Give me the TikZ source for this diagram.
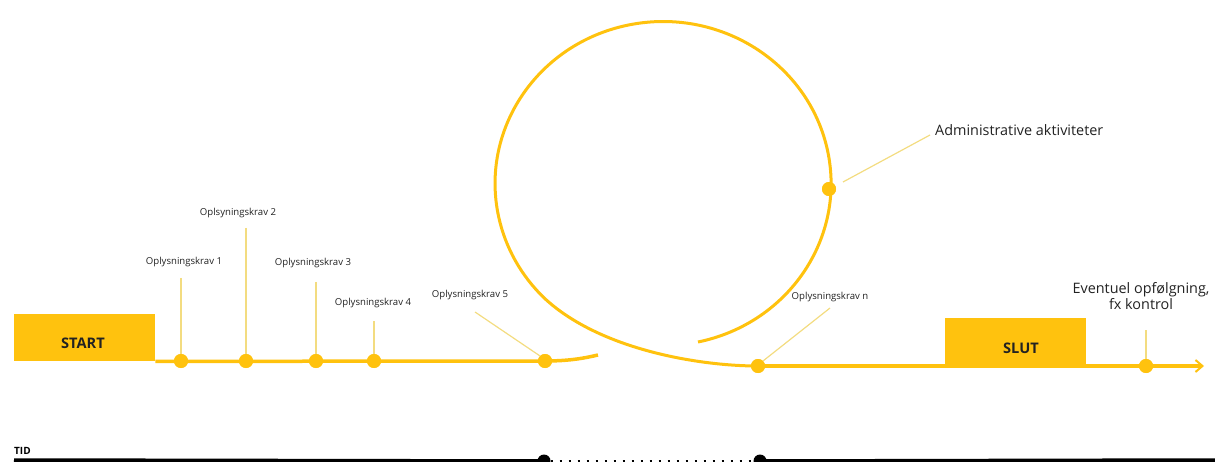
\documentclass[tikz,border=0pt]{standalone}
\usepackage{fontspec}
\setmainfont{Open Sans}
\usetikzlibrary{arrows.meta}
\definecolor{gold}{HTML}{FFC20E}
\definecolor{lead}{HTML}{F3DC80}
\definecolor{ink}{HTML}{222222}
\tikzset{
  main/.style={draw=gold, line width=3.5pt},
  dot/.style={circle, fill=gold, inner sep=0pt, minimum size=14pt},
  bdot/.style={circle, fill=black, inner sep=0pt, minimum size=13pt},
  leader/.style={draw=lead, line width=1.2pt},
  lbl/.style={font=\fontsize{9.6}{11}\selectfont, text=ink, inner sep=0pt},
  big/.style={font=\fontsize{14.4}{16}\selectfont, text=ink, inner sep=0pt},
  box/.style={fill=gold, inner sep=0pt, anchor=north west},
  boxtxt/.style={font=\fontsize{14.6}{16}\bfseries\selectfont, text=ink, inner sep=0pt}
}
\begin{document}
\begin{tikzpicture}[x=1pt,y=-1pt]
\useasboundingbox (0,0) rectangle (1215,462);
% boxes
\node[box, minimum width=141pt, minimum height=47pt] (startbox) at (14,314) {};
\node[boxtxt] (start) at (83,343) {START};
\node[box, minimum width=141pt, minimum height=48pt] (slutbox) at (945,318) {};
\node[boxtxt] (slut) at (1021,348) {SLUT};
% dots
\node[dot] (d1) at (181,361) {};
\node[dot] (d2) at (246,361) {};
\node[dot] (d3) at (316,361) {};
\node[dot] (d4) at (374,361) {};
\node[dot] (d5) at (545,361) {};
\node[dot] (dn) at (758,366) {};
\node[dot] (da) at (829,189) {};
\node[dot] (df) at (1146,366) {};
\coordinate (lend) at (598,355);
\coordinate (inner) at (698,342);
\coordinate (arrowend) at (1204,366);
% main lines
\draw[main] (startbox.south east) -- (d5.center) .. controls (570,361) and (585,358) .. (lend);
\draw[main, line width=3pt] (inner) arc[start angle=78, end angle=-225, x radius=168, y radius=162]
   .. controls (600,350) and (700,366) .. (dn.center);
\draw[main, -{Straight Barb[length=7pt, width=12pt, line width=2pt]}] (dn.center) -- (arrowend);
% redraw dots on top
\foreach \d in {d1,d2,d3,d4,d5,dn,da,df} \node[dot] at (\d) {};
% labels
\node[lbl] (l1) at (184,262) {Oplysningskrav 1};
\node[lbl] (l2) at (238,213) {Oplsyningskrav 2};
\node[lbl] (l3) at (313,263) {Oplysningskrav 3};
\node[lbl] (l4) at (373,303) {Oplysningskrav 4};
\node[lbl] (l5) at (470,295) {Oplysningskrav 5};
\node[lbl] (ln) at (830,297) {Oplysningskrav n};
\node[big, anchor=west] (la) at (935,130) {Administrative aktiviteter};
\node[big, align=center] (lf) at (1141,296) {Eventuel opfølgning,\\fx kontrol};
% leaders
\draw[leader] (d1.north |- 0,278) -- (d1.north);
\draw[leader] (d2.north |- 0,228) -- (d2.north);
\draw[leader] (d3.north |- 0,282) -- (d3.north);
\draw[leader] (d4.north |- 0,321) -- (d4.north);
\draw[leader] (475,312) -- (d5.north west);
\draw[leader] (830,308) -- (dn.north east);
\draw[leader] (930,135) -- (843,182);
\draw[leader] (df.north |- 0,330) -- (df.north);
% time bar
\node[font=\fontsize{10}{11}\bfseries\selectfont, inner sep=0pt, anchor=west] (tid) at (14,451) {TID};
\node[bdot] (t1) at (544,461) {};
\node[bdot] (t2) at (760,461) {};
\coordinate (tl) at (14,460);
\coordinate (tr) at (1215,460);
\draw[line width=3.5pt] (tl) -- (t1.center);
\draw[line width=3.5pt] (t2.center) -- (tr);
\draw[line width=3pt, dash pattern=on 2.5pt off 6.5pt] (t1.east) -- (t2.west);
\end{tikzpicture}
\end{document}
